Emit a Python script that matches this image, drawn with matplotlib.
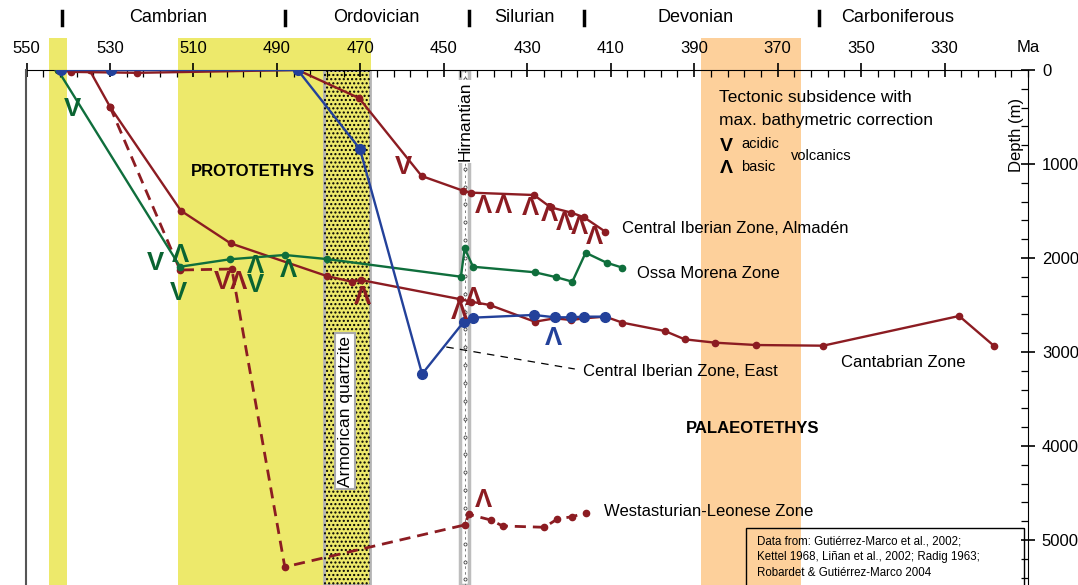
import numpy as np
import matplotlib.pyplot as plt
from matplotlib.patches import Rectangle

plt.rcParams['font.family'] = ['Liberation Sans', 'DejaVu Sans']

# --- data (age in Ma, depth in m) ---
cize_age = [541.7, 529.8, 485.0, 470.1, 455.2, 445.2, 443.1, 428.4, 423.4, 419.4, 416.4, 411.3]
cize_depth = [0, 0, 0, 840, 3234, 2678, 2635, 2606, 2631, 2631, 2624, 2624]

almaden_age = [542.4, 539.4, 523.4, 485.0, 470.3, 455.3, 445.4, 443.4, 428.4, 424.4, 419.4, 416.4, 411.3]
almaden_depth = [0, 20, 30, 0, 299, 1128, 1284, 1305, 1330, 1461, 1518, 1567, 1720]

cantab_age = [542.5, 534.9, 530.0, 513.0, 501.1, 478.1, 472.1, 469.9, 446.0, 443.4, 439.0,
              428.2, 423.4, 419.4, 416.4, 411.3, 407.2, 397.0, 392.3, 385.0, 375.1, 359.1, 326.5, 318.2]
cantab_depth = [0, 0, 390, 1497, 1844, 2191, 2252, 2234, 2439, 2465, 2500,
                2678, 2642, 2660, 2642, 2624, 2688, 2777, 2865, 2901, 2926, 2933, 2617, 2933]

westast_age = [530.0, 513.2, 500.8, 488.1, 445.0, 444.0, 438.8, 435.9, 425.9, 422.8, 419.2, 415.9]
westast_depth = [390, 2128, 2117, 5287, 4840, 4727, 4787, 4851, 4865, 4777, 4752, 4710]

ossa_age = [542.5, 513.2, 501.3, 488.1, 478.1, 445.9, 445.0, 443.0, 428.2, 423.0, 419.2, 416.0, 411.0, 407.2]
ossa_depth = [0, 2093, 2014, 1968, 2011, 2199, 1897, 2093, 2152, 2205, 2252, 1944, 2050, 2103]

# volcanics: V = acidic, Λ = basic (paired symbols drawn as one string)
red_sym = ['V', 'VΛ', 'Λ', 'Λ', 'Λ', 'Λ', 'Λ', 'Λ', 'Λ', 'Λ', 'Λ', 'Λ', 'Λ']
red_sym_age = [459.7, 501.0, 440.4, 435.6, 429.2, 424.6, 421.0, 417.4, 413.8, 469.6, 446.2, 443.0, 440.4]
red_sym_depth = [1028, 2255, 1447, 1447, 1471, 1532, 1631, 1667, 1773, 2412, 2571, 2429, 4574]
green_sym = ['V', 'V', 'Λ', 'V', 'Λ', 'Λ\nV']
green_sym_age = [538.9, 519.0, 513.2, 513.6, 487.3, 495.1]
green_sym_depth = [415, 2050, 1968, 2376, 2128, 2190]
blue_sym = ['Λ']
blue_sym_age = [423.8]
blue_sym_depth = [2854]

periods = ['Cambrian', 'Ordovician', 'Silurian', 'Devonian', 'Carboniferous']
period_mid = [516.1, 466.2, 430.8, 389.7, 341.2]
period_bounds = [541.5, 488.0, 444.0, 416.5, 360.0]

RED = '#8c1c22'
BLUE = '#23419a'
GREEN = '#0f6e3c'
GREEN_V = '#0a6432'
YELLOW = '#ede96b'
ORANGE = '#fdd09b'

fig = plt.figure(figsize=(10.78, 5.85), dpi=100)
ax = fig.add_axes([26.5 / 1078, 0, (1028 - 26.5) / 1078, 515 / 585])
ax.set_xlim(550, 310)
ax.set_ylim(5479, 0)

def ypx(px):
    # figure pixel row -> axes fraction
    return (585 - px) / 515

xt = ax.get_xaxis_transform()

# background bands
for a, b, c in [(544.6, 540.3, YELLOW), (513.7, 467.5, YELLOW), (388.4, 364.4, ORANGE)]:
    r = Rectangle((b, 0), a - b, ypx(38), transform=xt, facecolor=c,
                  edgecolor='none', zorder=0, clip_on=False)
    ax.add_patch(r)

# Armorican quartzite (stippled)
ax.add_patch(Rectangle((467.8, 0), 10.8, 5479, facecolor=YELLOW, edgecolor='#b4b4b4', lw=2, zorder=1))
ax.add_patch(Rectangle((467.8, 0), 10.8, 5479, facecolor='none', edgecolor='black', lw=0,
                       hatch='....', zorder=1.1))
ax.text(473.6, 3628, 'Armorican quartzite', rotation=90, ha='center', va='center', fontsize=12.5,
        zorder=2, bbox=dict(boxstyle='square,pad=0.15', fc='white', ec='#aaaaaa', lw=1.5))

# Hirnantian
ax.add_patch(Rectangle((443.9, 0), 2.1, 5479, facecolor='white', edgecolor='#bdbdbd', lw=2.5, zorder=1))
ax.plot([444.95, 444.95], [0, 5479], color='#666666', lw=0.6, ls=(0, (3, 4)), zorder=1.2)
orn = np.arange(100, 5479, 190)
ax.plot(np.full(orn.size, 444.95), orn, 'o', ms=2.2, mfc='white', mec='#444444', mew=0.6, zorder=1.3)
ax.text(445.0, 545, 'Hirnantian', rotation=90, ha='center', va='center', fontsize=12.5, zorder=2,
        bbox=dict(boxstyle='square,pad=0.1', fc='white', ec='none'))

# subsidence curves
ax.plot(almaden_age, almaden_depth, '-o', color=RED, lw=1.7, ms=4.5, zorder=3)
ax.plot(cantab_age, cantab_depth, '-o', color=RED, lw=1.7, ms=4.5, zorder=3)
ax.plot(westast_age, westast_depth, 'o', color=RED, ms=4.5, zorder=3, ls=(0, (4, 2.5)), lw=2)
ax.plot(ossa_age, ossa_depth, '-o', color=GREEN, lw=1.7, ms=4.5, zorder=3)
ax.plot(cize_age, cize_depth, '-o', color=BLUE, lw=1.7, ms=7, zorder=3.5)
ax.plot([449.4, 418.6], [2947, 3181], color='black', lw=0.9, ls=(0, (6, 5)), zorder=3)

# volcanic symbols
def glyphs(syms, ages, depths, color, fs=18.5):
    for s, a, d in zip(syms, ages, depths):
        ax.text(a, d, s, color=color, fontsize=fs, fontweight='bold', ha='center', va='center',
                linespacing=0.75, zorder=4)

glyphs(red_sym, red_sym_age, red_sym_depth, RED)
glyphs(green_sym, green_sym_age, green_sym_depth, GREEN_V)
glyphs(blue_sym, blue_sym_age, blue_sym_depth, BLUE)

# curve labels
ax.text(407.2, 1684, 'Central Iberian Zone, Almadén', fontsize=12, va='center')
ax.text(403.8, 2170, 'Ossa Morena Zone', fontsize=12, va='center')
ax.text(354.7, 3114, 'Cantabrian Zone', fontsize=12, va='center')
ax.text(416.6, 3209, 'Central Iberian Zone, East', fontsize=12, va='center')
ax.text(411.7, 4699, 'Westasturian-Leonese Zone', fontsize=12, va='center')
ax.text(495.7, 1085, 'PROTOTETHYS', fontsize=12, fontweight='bold', ha='center', va='center')
ax.text(376.1, 3809, 'PALAEOTETHYS', fontsize=12, fontweight='bold', ha='center', va='center')

# key
ax.text(384.1, 290, 'Tectonic subsidence with', fontsize=12.5, va='center')
ax.text(384.1, 532, 'max. bathymetric correction', fontsize=12.5, va='center')
ax.text(382.4, 809, 'V', fontsize=14, fontweight='bold', ha='center', va='center')
ax.text(382.4, 1053, 'Λ', fontsize=14, fontweight='bold', ha='center', va='center')
ax.text(378.7, 790, 'acidic', fontsize=10.5, va='center')
ax.text(378.7, 1032, 'basic', fontsize=10.5, va='center')
ax.text(366.7, 915, 'volcanics', fontsize=10.5, va='center')

# data source box
ax.add_patch(Rectangle((310.9, 4876), 66.7, 800, facecolor='none', edgecolor='black', lw=1, zorder=5))
src = ['Data from: Gutiérrez-Marco et al., 2002;',
       'Kettel 1968, Liñan et al., 2002; Radig 1963;',
       'Robardet & Gutiérrez-Marco 2004']
for i, line in enumerate(src):
    ax.text(374.9, 5018 + i * 168, line, fontsize=8.3, va='center', zorder=5)

ax.text(312.7, 691, 'Depth (m)', rotation=90, fontsize=12, ha='center', va='center')

# axes styling
ax.xaxis.tick_top()
ax.set_xticks(np.arange(550, 329, -20))
ax.set_xticks(np.arange(550, 309, -4), minor=True)
ax.yaxis.tick_right()
ax.set_yticks(np.arange(0, 5001, 1000))
ax.set_yticks(np.arange(0, 5479, 200), minor=True)
ax.tick_params(which='major', direction='inout', length=10, width=1.2, labelsize=12, pad=5)
ax.tick_params(which='minor', direction='in', length=5, width=0.9)
ax.tick_params(axis='x', which='both', top=True, bottom=False)
ax.tick_params(axis='y', which='both', right=True, left=False)
ax.spines['bottom'].set_visible(False)
ax.spines['left'].set_color('#555555')
ax.spines['left'].set_linewidth(1.5)
ax.text(310, ypx(48), 'Ma', transform=xt, fontsize=12, ha='center', va='center', clip_on=False)

for name, m in zip(periods, period_mid):
    ax.text(m, ypx(18), name, transform=xt, fontsize=13, ha='center', va='center', clip_on=False)
for b in period_bounds:
    ax.plot([b, b], [ypx(25), ypx(11)], transform=xt, color='black', lw=2.5, clip_on=False)

fig.savefig('out.png', dpi=100)
